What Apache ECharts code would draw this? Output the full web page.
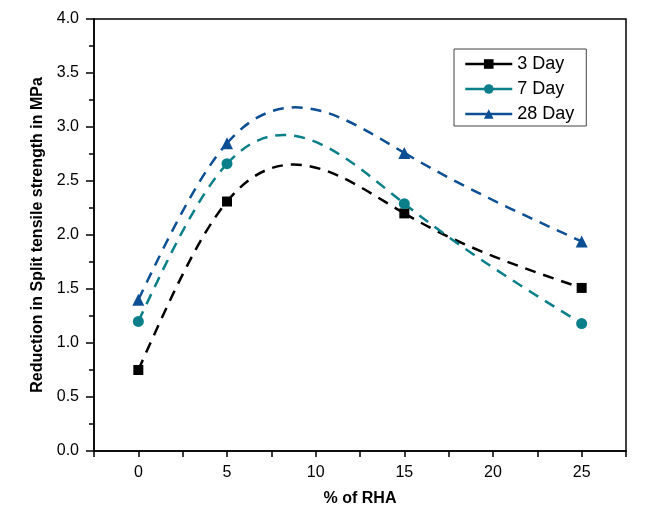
<!DOCTYPE html>
<html>
<head>
<meta charset="utf-8">
<script src="https://cdn.jsdelivr.net/npm/echarts@6/dist/echarts.min.js"></script>
<style>
    html, body { margin: 0; padding: 0; background: #fff; }
    #chart { width: 666px; height: 512px; }
</style>
</head>
<body>
<div id="chart"></div>
<script>
    // % of RHA
    var rha = [0, 5, 15, 25];
    var day3 = [0.75, 2.31, 2.20, 1.51];
    var day7 = [1.20, 2.66, 2.29, 1.18];
    var day28 = [1.40, 2.85, 2.76, 1.94];
    var seriesNames = ['3 Day', '7 Day', '28 Day'];

    var FONT = 'Liberation Sans, Arial, sans-serif';

    var pairs = function (xs, ys) {
        var out = [], i;
        for (i = 0; i < xs.length; i++) {
            out.push([xs[i], ys[i]]);
        }
        return out;
    };

    // natural cubic spline through the points, returned as bezier
    // control points (in data units) for each segment
    var splineSegments = function (xs, ys) {
        var n = xs.length, h = [], M = [], a = [], b = [], c = [], d = [],
            i, w, segs = [];
        for (i = 0; i < n - 1; i++) {
            h.push(xs[i + 1] - xs[i]);
        }
        // tridiagonal system for inner second derivatives
        for (i = 1; i < n - 1; i++) {
            a.push(h[i - 1]);
            b.push(2 * (h[i - 1] + h[i]));
            c.push(h[i]);
            d.push(6 * ((ys[i + 1] - ys[i]) / h[i] - (ys[i] - ys[i - 1]) / h[i - 1]));
        }
        for (i = 1; i < b.length; i++) {
            w = a[i] / b[i - 1];
            b[i] -= w * c[i - 1];
            d[i] -= w * d[i - 1];
        }
        var inner = [];
        for (i = b.length - 1; i >= 0; i--) {
            inner[i] = (d[i] - (i < b.length - 1 ? c[i] * inner[i + 1] : 0)) / b[i];
        }
        M = [0].concat(inner, [0]);

        for (i = 0; i < n - 1; i++) {
            var slope = (ys[i + 1] - ys[i]) / h[i],
                d0 = slope - M[i] * h[i] / 3 - M[i + 1] * h[i] / 6,
                d1 = slope + M[i] * h[i] / 6 + M[i + 1] * h[i] / 3;
            segs.push([
                [xs[i], ys[i]],
                [xs[i] + h[i] / 3, ys[i] + d0 * h[i] / 3],
                [xs[i + 1] - h[i] / 3, ys[i + 1] - d1 * h[i] / 3],
                [xs[i + 1], ys[i + 1]]
            ]);
        }
        return segs;
    };

    var curveSeries = function (name, values, color) {
        var segs = splineSegments(rha, values);
        return {
            name: name + ' curve',
            type: 'custom',
            data: [[rha[0], values[0]]],
            silent: true,
            z: 2,
            renderItem: function (params, api) {
                var children = [], i, p0, p1, p2, p3;
                for (i = 0; i < segs.length; i++) {
                    p0 = api.coord(segs[i][0]);
                    p1 = api.coord(segs[i][1]);
                    p2 = api.coord(segs[i][2]);
                    p3 = api.coord(segs[i][3]);
                    children.push({
                        type: 'bezierCurve',
                        shape: {
                            x1: p0[0], y1: p0[1],
                            cpx1: p1[0], cpy1: p1[1],
                            cpx2: p2[0], cpy2: p2[1],
                            x2: p3[0], y2: p3[1]
                        },
                        style: {
                            fill: null,
                            stroke: color,
                            lineWidth: 2.5,
                            lineDash: [11, 8]
                        }
                    });
                }
                return { type: 'group', children: children };
            }
        };
    };

    var markSeries = function (name, values, color, symbol, size) {
        return {
            name: name,
            type: 'line',
            data: pairs(rha, values),
            symbol: symbol,
            symbolSize: size,
            showAllSymbol: true,
            itemStyle: { color: color },
            lineStyle: { color: color, width: 2.5, opacity: 0 },
            z: 3
        };
    };

    var myChart = echarts.init(document.getElementById('chart'));

    myChart.setOption({
        backgroundColor: '#fff',
        animation: false,
        grid: {
            left: 94, right: 40, top: 19, bottom: 60,
            show: true,
            borderColor: '#000',
            borderWidth: 1.5,
            backgroundColor: 'transparent'
        },
        legend: {
            data: seriesNames,
            orient: 'vertical',
            left: 454,
            top: 49,
            padding: [6, 12, 3, 10],
            itemGap: 7,
            itemWidth: 47,
            itemHeight: 12,
            borderColor: '#444',
            borderWidth: 1,
            lineStyle: { type: 'solid', width: 2.5, opacity: 1 },
            textStyle: { fontFamily: FONT, fontSize: 18, color: '#000' }
        },
        xAxis: {
            type: 'value',
            min: -2.5,
            max: 27.5,
            interval: 2.5,
            name: '% of RHA',
            nameLocation: 'middle',
            nameGap: 40,
            nameTextStyle: { fontFamily: FONT, fontSize: 16, fontWeight: 'bold', color: '#000' },
            axisLine: { onZero: false, lineStyle: { color: '#000', width: 1.5 } },
            axisTick: { length: 6, lineStyle: { color: '#000', width: 1.5 } },
            axisLabel: {
                fontFamily: FONT, fontSize: 16, color: '#000', margin: 14,
                formatter: function (v) {
                    return (v >= 0 && v % 5 === 0) ? String(v) : '';
                }
            },
            splitLine: { show: false }
        },
        yAxis: {
            type: 'value',
            min: 0,
            max: 4,
            interval: 0.5,
            name: 'Reduction in Split tensile strength in MPa',
            nameLocation: 'middle',
            nameGap: 47,
            nameTextStyle: { fontFamily: FONT, fontSize: 16, fontWeight: 'bold', color: '#000' },
            axisLine: { show: true, onZero: false, lineStyle: { color: '#000', width: 1.5 } },
            axisTick: { length: 8, lineStyle: { color: '#000', width: 1.5 } },
            minorTick: { show: true, splitNumber: 2, length: 5, lineStyle: { color: '#000', width: 1.5 } },
            axisLabel: {
                fontFamily: FONT, fontSize: 16, color: '#000', margin: 15,
                formatter: function (v) { return v.toFixed(1); }
            },
            splitLine: { show: false }
        },
        series: [
            curveSeries('3 Day', day3, '#000000'),
            curveSeries('7 Day', day7, '#0a7f8a'),
            curveSeries('28 Day', day28, '#0d4f94'),
            markSeries('3 Day', day3, '#000000', 'rect', 10),
            markSeries('7 Day', day7, '#0a7f8a', 'circle', 11),
            markSeries('28 Day', day28, '#0d4f94', 'triangle', 12)
        ]
    });
</script>
</body>
</html>
